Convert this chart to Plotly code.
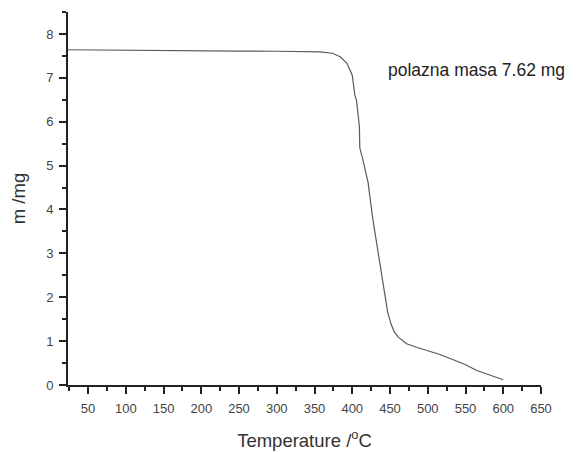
import plotly.graph_objects as go

# Data (TGA curve)
temperature = [23.5, 50, 100, 150, 200, 250, 300, 340, 357, 374, 384, 393, 400,
               403.5, 405.5, 406.5, 409, 409.5, 410, 414, 421, 427, 434, 439,
               443, 447, 452, 456, 461, 467, 472, 485, 499, 515, 533, 550, 565,
               580, 600]
mass = [7.64, 7.635, 7.63, 7.62, 7.615, 7.61, 7.605, 7.60, 7.59, 7.56, 7.48,
        7.33, 7.06, 6.60, 6.50, 6.35, 6.05, 5.88, 5.40, 5.14, 4.61, 3.81, 3.05,
        2.54, 2.09, 1.65, 1.36, 1.20, 1.09, 1.00, 0.94, 0.86, 0.79, 0.70, 0.58,
        0.46, 0.33, 0.24, 0.12]

x_range = [23.5, 650]
y_range = [0, 8.5]
annotation_text = "polazna masa 7.62 mg"
annotation_pos = (445, 7.18)

FONT = "Liberation Sans, Arial, sans-serif"

fig = go.Figure()
fig.add_trace(go.Scatter(
    x=temperature, y=mass, mode="lines",
    line=dict(color="#5a5a5a", width=1.2),
    hoverinfo="skip", showlegend=False,
))

axis_common = dict(
    showline=True, linecolor="#222222", linewidth=2,
    showgrid=False, zeroline=False,
    ticks="outside", ticklen=7, tickwidth=2, tickcolor="#222222",
    tickfont=dict(family=FONT, size=13, color="#444444"),
    mirror=False,
)

# the page body has an 8px margin, so the figure is 8px smaller than the window
fig.update_layout(
    width=568, height=444,
    margin=dict(l=60, r=35, t=4, b=58),
    paper_bgcolor="white", plot_bgcolor="white",
    font=dict(family=FONT, color="#333333"),
    xaxis=dict(
        range=x_range, tick0=50, dtick=50,
        minor=dict(dtick=25, tick0=25, ticks="outside", ticklen=4,
                   tickwidth=2, tickcolor="#222222"),
        title=dict(text="Temperature /<sup>o</sup>C",
                   font=dict(family=FONT, size=18.5, color="#333333"),
                   standoff=19),
        ticklabelstandoff=3,
        **axis_common,
    ),
    yaxis=dict(
        range=y_range, tick0=0, dtick=1,
        minor=dict(dtick=0.5, ticks="outside", ticklen=4,
                   tickwidth=2, tickcolor="#222222"),
        title=dict(text="m /mg",
                   font=dict(family=FONT, size=18.5, color="#333333"),
                   standoff=17),
        ticklabelstandoff=3,
        **axis_common,
    ),
    annotations=[dict(
        x=annotation_pos[0], y=annotation_pos[1], xref="x", yref="y",
        text=annotation_text, showarrow=False,
        xanchor="left", yanchor="middle",
        font=dict(family=FONT, size=17.5, color="#222222"),
    )],
)

fig.write_html("out.html")
